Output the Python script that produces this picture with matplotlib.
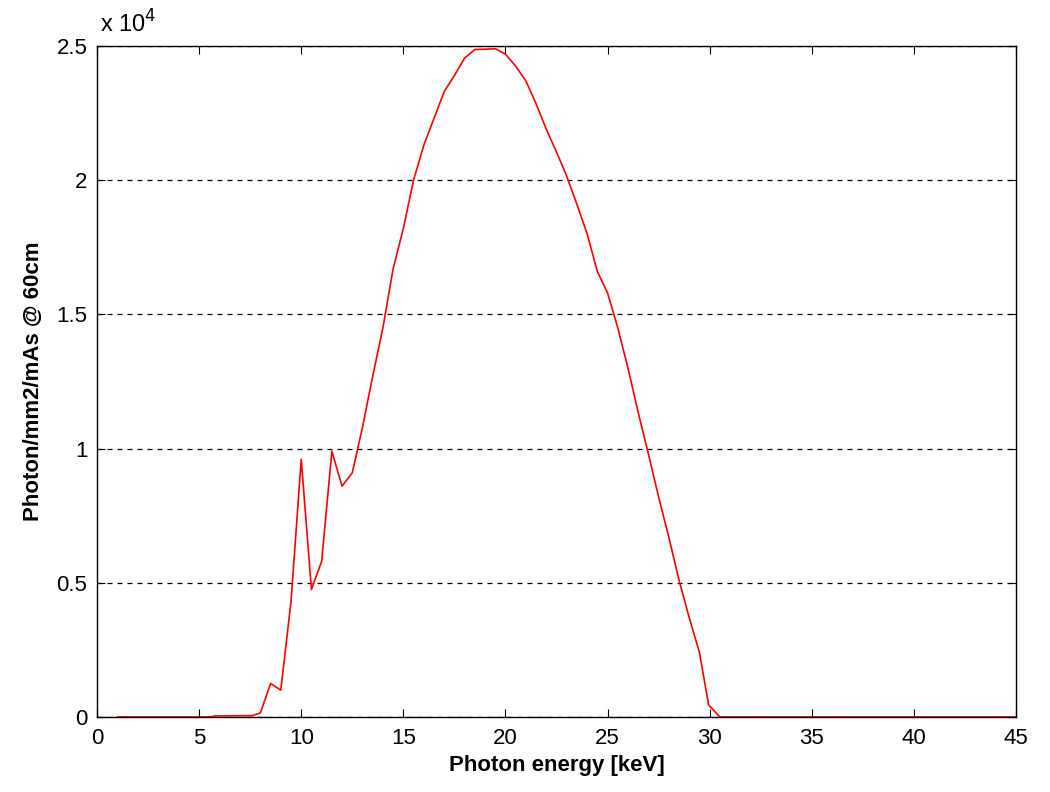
import numpy as np
import matplotlib
matplotlib.use("Agg")
import matplotlib.pyplot as plt
from matplotlib.ticker import FuncFormatter

# spectrum (keV, photons/mm2/mAs @ 60cm)
energy = [1.0, 5.5, 5.8, 7.6, 8.0, 8.5, 9.0, 9.5, 10.0, 10.5, 11.0, 11.5, 12.0,
          12.5, 13.0, 13.5, 14.0, 14.5, 15.0, 15.5, 16.0, 16.5, 17.0, 17.5,
          18.0, 18.5, 19.0, 19.5, 20.0, 20.5, 21.0, 21.5, 22.0, 22.5, 23.0,
          23.5, 24.0, 24.5, 25.0, 25.5, 26.0, 26.5, 27.0, 27.5, 28.0, 28.5,
          29.0, 29.5, 29.95, 30.5, 45.0]
photons = [0, 0, 40, 50, 150, 1250, 1000, 4300, 9600, 4750, 5800, 9900, 8600,
           9100, 10800, 12700, 14500, 16700, 18200, 20000, 21300, 22300, 23300,
           23900, 24550, 24870, 24880, 24900, 24700, 24250, 23700, 22850,
           21900, 21050, 20150, 19100, 18000, 16600, 15800, 14500, 13000,
           11350, 9800, 8200, 6700, 5100, 3700, 2400, 450, 0, 0]

xticks = [0, 5, 10, 15, 20, 25, 30, 35, 40, 45]
yticks = [0, 5000, 10000, 15000, 20000, 25000]

plt.rcParams['font.family'] = ['Liberation Sans', 'DejaVu Sans']

fig = plt.figure(figsize=(10.5, 7.92), dpi=100)
ax = fig.add_axes([0.0924, 0.0947, 0.8752, 0.8472])

ax.plot(energy, photons, color='red', lw=1.2)

ax.set_xlim(0, 45)
ax.set_ylim(0, 25000)
ax.set_xticks(xticks)
ax.set_yticks(yticks)
ax.yaxis.set_major_formatter(FuncFormatter(lambda v, p: f"{v/1e4:g}"))
ax.tick_params(direction='in', top=True, right=True, labelsize=16, length=6)
ax.tick_params(axis='x', pad=8)
ax.tick_params(axis='y', pad=7)
ax.yaxis.grid(True, linestyle=(0, (4, 4)), color='black', lw=0.9)
ax.set_axisbelow(True)
for s in ax.spines.values():
    s.set_linewidth(1.0)

ax.set_xlabel('Photon energy [keV]', fontsize=16, fontweight='bold', labelpad=4)
ax.set_ylabel('Photon/mm2/mAs @ 60cm', fontsize=16, fontweight='bold', labelpad=9)
ax.text(0.003, 1.012, r'x 10$^{4}$', transform=ax.transAxes, fontsize=17,
        ha='left', va='bottom')

fig.savefig('out.png', dpi=100)
